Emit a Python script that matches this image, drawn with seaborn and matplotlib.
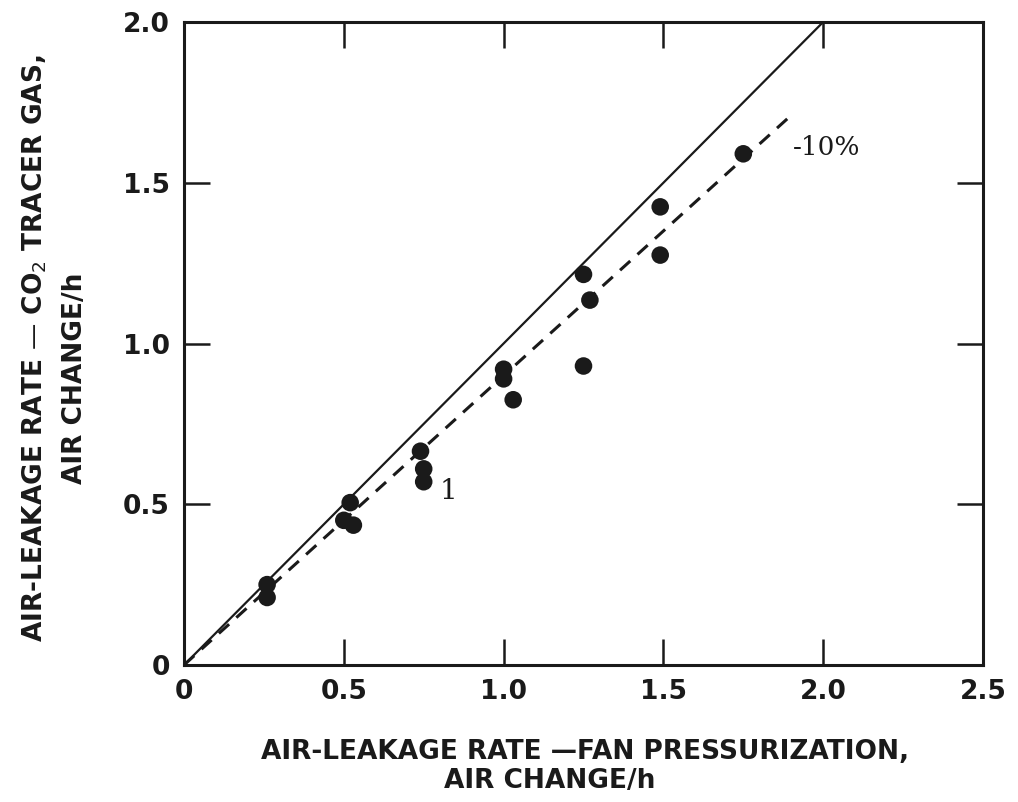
import numpy as np
import pandas as pd
import matplotlib
matplotlib.use("Agg")
import matplotlib.pyplot as plt
import seaborn as sns

# ---- data ----
fan_rate = [0.26, 0.26, 0.52, 0.50, 0.53, 0.74, 0.75, 0.75, 1.00, 1.00, 1.03,
            1.25, 1.25, 1.27, 1.49, 1.49, 1.75]
tracer_rate = [0.25, 0.21, 0.505, 0.45, 0.435, 0.665, 0.61, 0.57, 0.92, 0.89, 0.825,
               1.215, 0.93, 1.135, 1.425, 1.275, 1.59]
equal_x = [0.0, 2.0]
equal_y = [0.0, 2.0]
minus10_x = [0.0, 1.9]
minus10_y = [0.0, 1.71]
x_ticks = [0.0, 0.5, 1.0, 1.5, 2.0, 2.5]
x_tick_labels = ["0", "0.5", "1.0", "1.5", "2.0", "2.5"]
y_ticks = [0.0, 0.5, 1.0, 1.5, 2.0]
y_tick_labels = ["0", "0.5", "1.0", "1.5", "2.0"]
xlabel_lines = ["AIR-LEAKAGE RATE \u2014FAN PRESSURIZATION,", "AIR CHANGE/h"]
ylabel_lines = ["AIR-LEAKAGE RATE \u2014 CO$_2$ TRACER GAS,", "AIR CHANGE/h"]
line_note = "-10%"
point_note = "1"

sns.set_theme(style="white")
plt.rcParams["font.family"] = ["DejaVu Sans"]

fig = plt.figure(figsize=(10.18, 8.02), dpi=100)
ax = fig.add_axes([184 / 1018, 1 - 665 / 802, (983 - 184) / 1018, (665 - 22) / 802])

pts = pd.DataFrame({"fan": fan_rate, "tracer": tracer_rate})
sns.lineplot(x=equal_x, y=equal_y, ax=ax, color="#1a1a1a", linewidth=1.6)
sns.lineplot(x=minus10_x, y=minus10_y, ax=ax, color="#1a1a1a", linewidth=2.2,
             dashes=False, linestyle=(0, (4.5, 3.2)))
sns.scatterplot(data=pts, x="fan", y="tracer", ax=ax, color="#1a1a1a",
                s=160, edgecolor="none", zorder=5)

ax.set_xlim(0, 2.5)
ax.set_ylim(0, 2.0)
ax.set_xticks(x_ticks)
ax.set_xticklabels(x_tick_labels)
ax.set_yticks(y_ticks)
ax.set_yticklabels(y_tick_labels)
ax.set_xlabel("")
ax.set_ylabel("")

for sp in ax.spines.values():
    sp.set_visible(True)
    sp.set_color("#1a1a1a")
    sp.set_linewidth(2.2)

ax.tick_params(axis="both", which="major", direction="in", length=19, width=1.8,
               color="#1a1a1a", top=True, right=True, bottom=True, left=True,
               labelsize=19, labelcolor="#1a1a1a", pad=10)
for lab in ax.get_xticklabels() + ax.get_yticklabels():
    lab.set_fontweight("bold")

ax.text(1.905, 1.61, line_note, fontsize=19, family="DejaVu Serif",
        color="#1a1a1a", ha="left", va="center")
ax.text(0.80, 0.54, point_note, fontsize=20, family="DejaVu Serif",
        color="#1a1a1a", ha="left", va="center")

lab_kw = dict(fontsize=19, fontweight="bold", color="#1a1a1a")
fig.text(585 / 1018, 1 - 752 / 802, xlabel_lines[0], ha="center", va="center", **lab_kw)
fig.text(550 / 1018, 1 - 781 / 802, xlabel_lines[1], ha="center", va="center", **lab_kw)
fig.text(35 / 1018, 1 - 348 / 802, ylabel_lines[0], ha="center", va="center",
         rotation=90, **lab_kw)
fig.text(75 / 1018, 1 - 378 / 802, ylabel_lines[1], ha="center", va="center",
         rotation=90, **lab_kw)

fig.savefig("out.png", dpi=100, facecolor="white")
